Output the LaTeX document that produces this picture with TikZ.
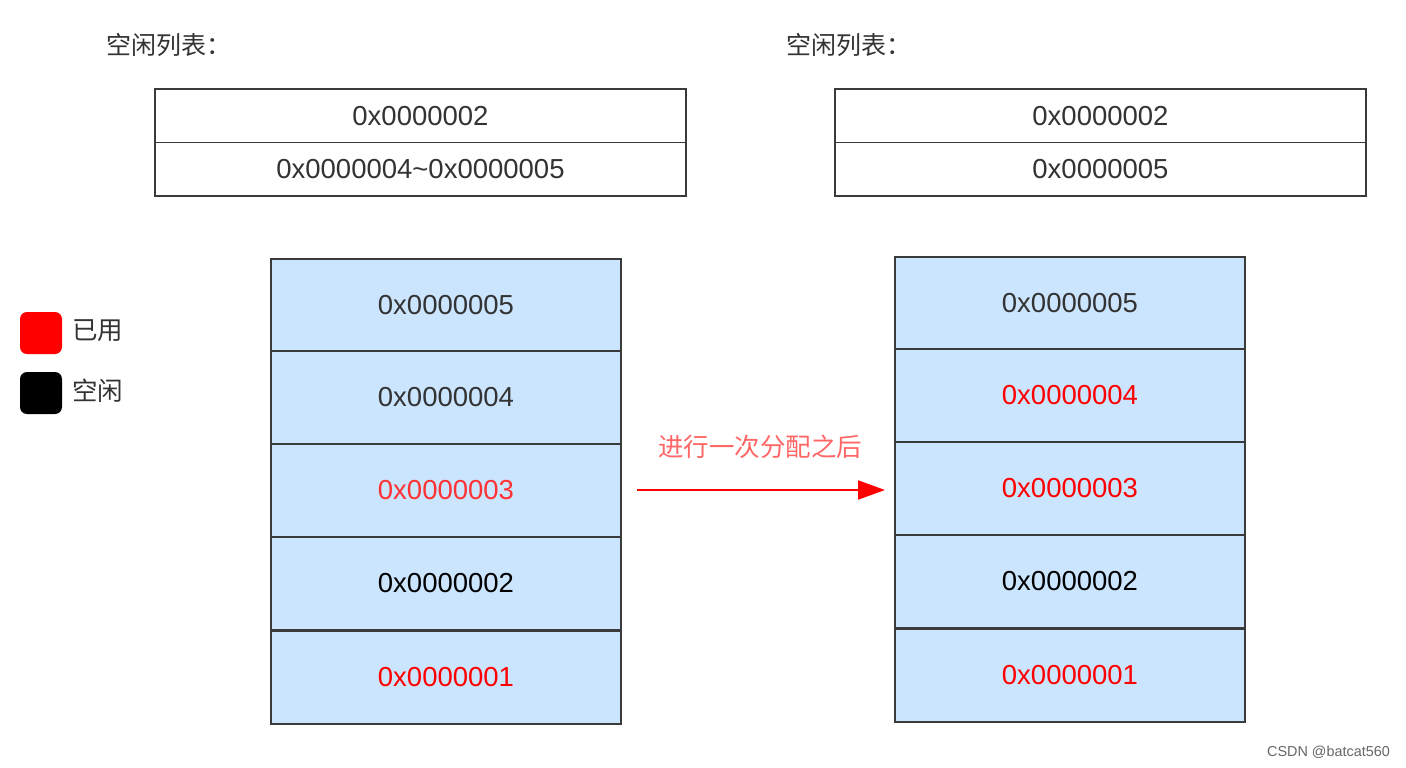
\documentclass[tikz,border=0pt]{standalone}
\usepackage{fontspec}
\setmainfont{Liberation Sans}
\newfontfamily\cjk{Noto Sans CJK SC}
\usetikzlibrary{arrows.meta}
\definecolor{cellfill}{HTML}{CCE5FF}
\definecolor{edgegray}{HTML}{3A3A3A}
\definecolor{txtdark}{HTML}{333333}
\definecolor{usedred}{HTML}{FF0000}
\definecolor{lightred}{HTML}{FF3333}
\definecolor{labelred}{HTML}{FF6666}
\definecolor{wmgray}{HTML}{666666}
\tikzset{
  hexfont/.style={font=\fontsize{27.5}{32}\selectfont},
  cell/.style={draw=edgegray, line width=2pt, fill=cellfill, minimum width=350pt, minimum height=93pt, inner sep=0pt, hexfont, text=txtdark},
  listcell/.style={draw=edgegray, line width=1.6pt, fill=white, minimum width=531pt, minimum height=53.5pt, inner sep=0pt, hexfont, text=txtdark},
  cjktext/.style={font=\cjk\fontsize{25}{28}\selectfont, text=txtdark, inner sep=0pt},
  legendbox/.style={rounded corners=7pt, minimum width=42pt, minimum height=42pt, inner sep=0pt},
}
\begin{document}
\begin{tikzpicture}[x=1pt,y=-1pt]
\useasboundingbox (0,0) rectangle (1406,768);
\fill[white] (0,0) rectangle (1406,768);

% titles
\node[cjktext, anchor=west] (t1) at (106,45) {空闲列表：};
\node[cjktext, anchor=west] (t2) at (786,45) {空闲列表：};

% free lists
\node[listcell] (l1a) at (420.5,115.75) {0x0000002};
\node[listcell] (l1b) at (420.5,169.25) {0x0000004\char`\~0x0000005};
\node[listcell] (l2a) at (1100.5,115.75) {0x0000002};
\node[listcell] (l2b) at (1100.5,169.25) {0x0000005};

% legend
\node[legendbox, fill=usedred] (lu) at (41,333) {};
\node[legendbox, fill=black] (lf) at (41,393) {};
\node[cjktext, font=\cjk\fontsize{25.5}{28}\selectfont, anchor=west] (lut) at (72,331) {已用};
\node[cjktext, font=\cjk\fontsize{25.5}{28}\selectfont, anchor=west] (lft) at (72,391) {空闲};

% left memory stack
\node[cell] (a5) at (446,305) {0x0000005};
\node[cell] (a4) at (446,397) {0x0000004};
\node[cell, text=lightred] (a3) at (446,490) {0x0000003};
\node[cell, text=black] (a2) at (446,583.5) {0x0000002};
\node[cell, text=usedred] (a1) at (446,677) {0x0000001};

% right memory stack
\node[cell] (b5) at (1070,303) {0x0000005};
\node[cell, text=usedred] (b4) at (1070,395) {0x0000004};
\node[cell, text=usedred] (b3) at (1070,488) {0x0000003};
\node[cell, text=black] (b2) at (1070,581.5) {0x0000002};
\node[cell, text=usedred] (b1) at (1070,675) {0x0000001};

% arrow
\coordinate (as) at (637,490);
\coordinate (ae) at (885,490);
\draw[usedred, line width=2pt, -{Triangle[length=27pt,width=19pt]}] (as) -- (ae);
\node[cjktext, font=\cjk\fontsize{25.5}{28}\selectfont, text=labelred] (al) at (760,447) {进行一次分配之后};

% watermark
\node[font=\fontsize{14.4}{16}\selectfont, text=wmgray, anchor=east, inner sep=0pt] (wm) at (1390,752) {CSDN @batcat560};
\end{tikzpicture}
\end{document}
